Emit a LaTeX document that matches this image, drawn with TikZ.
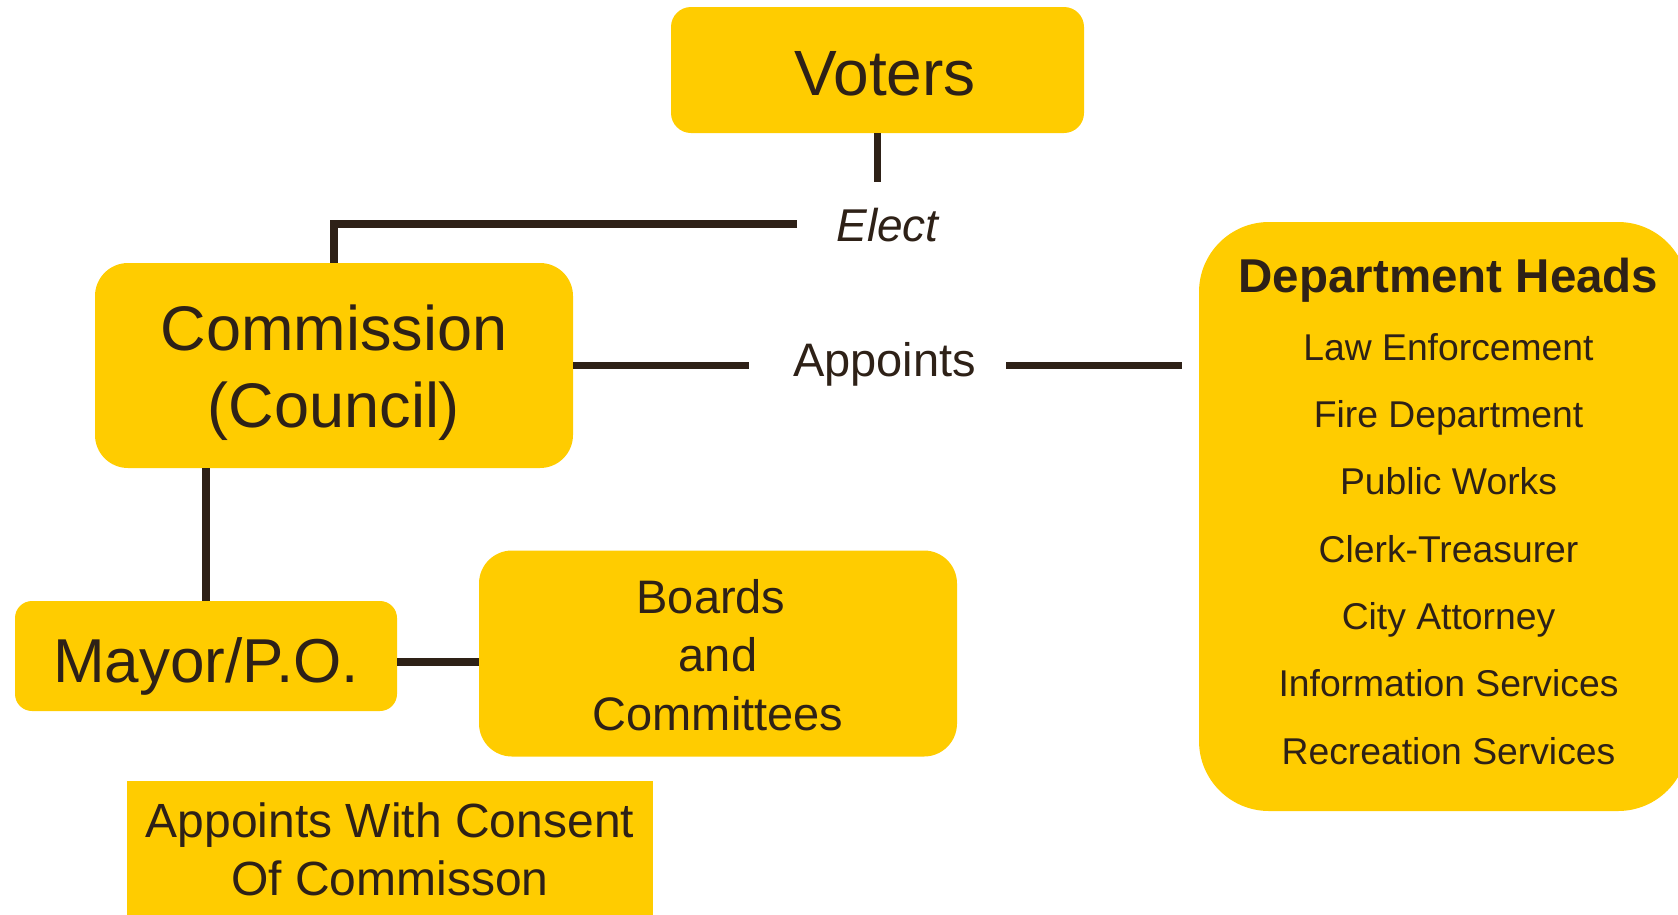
\documentclass[tikz,border=0pt]{standalone}
\usepackage{fontspec}
\setmainfont{Liberation Sans}
\definecolor{boxy}{HTML}{FFCC00}
\definecolor{ink}{HTML}{2E2117}
\tikzset{
  box/.style={fill=boxy, draw=none, inner sep=0pt, text=ink, align=center},
  conn/.style={draw=ink, line width=7.5pt},
  lbl/.style={text=ink, inner sep=0pt, anchor=base},
}
\newcommand{\dsh}{\hspace*{10pt}}
\begin{document}
\begin{tikzpicture}[x=1pt,y=-1pt]
\useasboundingbox (0,0) rectangle (1678,914);

% boxes
\node[box, rounded corners=20pt, minimum width=413pt, minimum height=126pt,
      font=\fontsize{64}{64}\selectfont, text height=50pt, text depth=0pt]
      (voters) at (877.5,70) {\hspace*{15pt}Voters};

\node[box, rounded corners=33pt, minimum width=478pt, minimum height=205pt,
      font=\fontsize{63}{77}\selectfont, text height=123pt, text depth=0pt]
      (comm) at (334,365.5) {Commission\\(Council)};

\node[box, rounded corners=17pt, minimum width=382pt, minimum height=110pt,
      font=\fontsize{62}{62}\selectfont, text height=52pt, text depth=0pt]
      (mayor) at (206,656) {Mayor/P.O.};

\node[box, rounded corners=33pt, minimum width=478pt, minimum height=206pt,
      font=\fontsize{47}{58.5}\selectfont, text height=153pt, text depth=0pt]
      (boards) at (718,653.5) {Boards\hspace*{14pt}\\and\hspace*{14pt}\\Committees};

\node[box, minimum width=526pt, minimum height=136pt,
      font=\fontsize{48}{58}\selectfont, text height=92pt, text depth=0pt]
      (consent) at (390,849) {Appoints With Consent\\Of Commisson};

\node[box, rounded corners=70pt, minimum width=489pt, minimum height=589pt,
      font=\fontsize{37.3}{67.3}\selectfont, text height=495pt, text depth=0pt]
      (dept) at (1443.5,516.5)
      {\dsh{\bfseries\fontsize{47.5}{67.3}\selectfont Department Heads}\\
       \dsh Law Enforcement\\
       \dsh Fire Department\\
       \dsh Public Works\\
       \dsh Clerk-Treasurer\\
       \dsh City Attorney\\
       \dsh Information Services\\
       \dsh Recreation Services};

% labels
\node[lbl, font=\itshape\fontsize{46}{46}\selectfont] (elect) at (887.5,241) {Elect};
\node[lbl, font=\fontsize{47}{47}\selectfont] (appoints) at (884.5,376) {Appoints};

% connectors
\coordinate (vend) at (877.5,182);
\draw[conn] (voters.south) -- (vend);

\coordinate (eend) at (797,224);
\draw[conn] (eend) -| (comm.north);

\coordinate (aL) at (749,365.5);
\draw[conn] (comm.east) -- (aL);

\coordinate (aR) at (1006,365.5);
\draw[conn, shorten >=17pt] (aR) -- (aR -| dept.west);

\draw[conn] (mayor.north |- comm.south) -- (mayor.north);

\coordinate (mb) at (437,662);
\draw[conn] (mb -| mayor.east) -- (mb -| boards.west);
\end{tikzpicture}
\end{document}
